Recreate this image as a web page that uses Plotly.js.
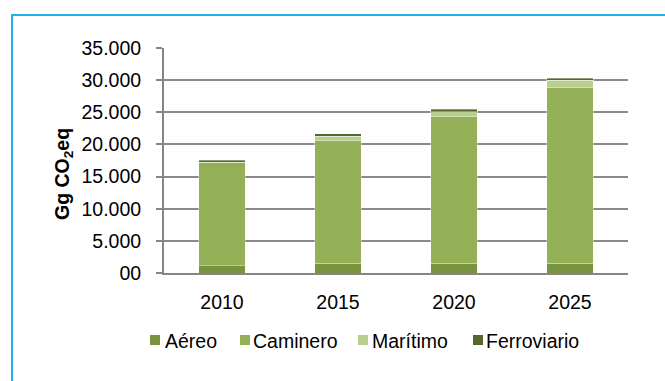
<!DOCTYPE html>
<html>
<head>
<meta charset="utf-8">
<script src="https://cdn.plot.ly/plotly-3.0.1.min.js"></script>
<style>
  html, body { margin: 0; padding: 0; background: #ffffff; }
  #wrap { position: relative; width: 665px; height: 381px; overflow: hidden; }
  #chart { position: absolute; left: 0; top: 0; width: 665px; height: 381px; }
  #frame { position: absolute; left: 11px; top: 14px; width: 700px; height: 400px;
           border-top: 2px solid #1DB4EE; border-left: 2px solid #1DB4EE; pointer-events: none; }
</style>
</head>
<body>
<div id="wrap">
  <div id="chart"></div>
  <div id="frame"></div>
</div>
<script>
const years = ['2010', '2015', '2020', '2025'];
const seriesNames = ['Aéreo', 'Caminero', 'Marítimo', 'Ferroviario'];
const aereo = [1100, 1500, 1500, 1500];
const caminero = [16100, 19100, 22800, 27300];
const maritimo = [50, 700, 800, 1200];
const ferroviario = [300, 400, 400, 300];
const yTickVals = [0, 5000, 10000, 15000, 20000, 25000, 30000, 35000];
const yTickText = ['00', '5.000', '10.000', '15.000', '20.000', '25.000', '30.000', '35.000'];
const yTitle = '<b>Gg CO<sub>2</sub>eq</b>';

const colors = ['#7A9341', '#94B057', '#B8CF8F', '#54672C'];
const values = [aereo, caminero, maritimo, ferroviario];

const FONT = 'Liberation Sans, Arial, sans-serif';
const FS = 19.5;

// plot-area geometry in pixels (for placing the hand-made legend)
const L = 164, R = 37, T = 48, B = 108, W = 665, H = 381;
const pw = W - L - R, ph = H - T - B;
const px2x = p => (p - L) / pw;
const py2y = p => (H - B - p) / ph;

// legend layout (pixel positions of the swatches / labels)
const legSwatchX = [150, 240, 358, 473];
const legTextX = [163, 251, 370, 484];
const legY = 341;
const sw = 10;

const traces = seriesNames.map((name, i) => ({
  type: 'bar',
  name: name,
  x: years,
  y: values[i],
  marker: { color: colors[i], line: { color: 'rgba(255,255,255,0.35)', width: 1 } },
  hoverinfo: 'skip',
  showlegend: false
}));

const shapes = seriesNames.map((name, i) => ({
  type: 'rect', xref: 'paper', yref: 'paper',
  x0: px2x(legSwatchX[i]), x1: px2x(legSwatchX[i] + sw),
  y0: py2y(legY - 6), y1: py2y(legY + 4),
  fillcolor: colors[i], line: { width: 0 }
}));

const annotations = [{
  text: yTitle,
  xref: 'paper', yref: 'paper',
  x: px2x(63), y: py2y(174),
  xanchor: 'center', yanchor: 'middle',
  textangle: -90,
  showarrow: false,
  font: { family: FONT, size: FS, color: '#000000' }
}].concat(seriesNames.map((name, i) => ({
  text: name,
  xref: 'paper', yref: 'paper',
  x: px2x(legTextX[i]), y: py2y(legY),
  xanchor: 'left', yanchor: 'middle',
  showarrow: false,
  font: { family: FONT, size: FS, color: '#000000' }
})));

const layout = {
  width: W,
  height: H,
  margin: { l: L, r: R, t: T, b: B, pad: 0 },
  paper_bgcolor: '#ffffff',
  plot_bgcolor: '#ffffff',
  barmode: 'stack',
  bargap: 0.595,
  font: { family: FONT, size: FS, color: '#000000' },
  showlegend: false,
  xaxis: {
    type: 'category',
    range: [-0.5, 3.5],
    showgrid: false,
    showline: true,
    linecolor: '#868686',
    linewidth: 2,
    ticks: '',
    ticklabelstandoff: 11,
    tickfont: { family: FONT, size: FS, color: '#000000' },
    zeroline: false
  },
  yaxis: {
    range: [0, 35000],
    tickvals: yTickVals,
    ticktext: yTickText,
    showgrid: true,
    gridcolor: '#8A8A8A',
    gridwidth: 2,
    showline: true,
    linecolor: '#868686',
    linewidth: 2,
    ticks: 'outside',
    ticklen: 6,
    tickwidth: 2,
    tickcolor: '#868686',
    ticklabelstandoff: 11,
    tickfont: { family: FONT, size: FS, color: '#000000' },
    zeroline: false
  },
  shapes: shapes,
  annotations: annotations
};

Plotly.newPlot('chart', traces, layout, { displayModeBar: false, staticPlot: true });
</script>
</body>
</html>
